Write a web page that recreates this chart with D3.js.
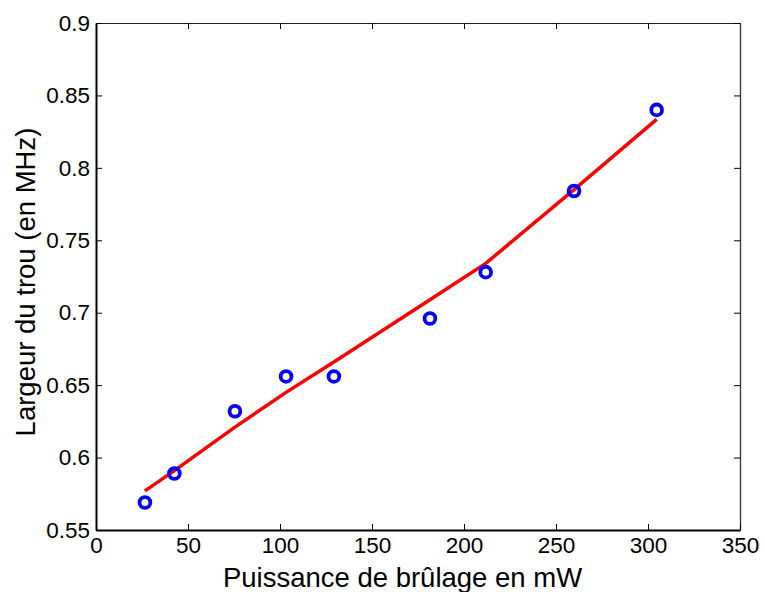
<!DOCTYPE html>
<html><head><meta charset="utf-8">
<script src="https://cdn.jsdelivr.net/npm/d3@7"></script>
<style>body{margin:0;background:#fff}svg{display:block}text{font-family:"Liberation Sans",Arial,Helvetica,sans-serif}</style>
</head><body><svg id="c" width="765" height="592"></svg>
<script>
const powerMW = [26.6, 42.6, 75.5, 103.3, 129.3, 181.5, 211.8, 259.8, 304.7];
const holeWidth = [0.569, 0.589, 0.632, 0.656, 0.656, 0.696, 0.728, 0.784, 0.840];
const fitWidth = [0.577, 0.591, 0.621, 0.645, 0.666, 0.709, 0.734, 0.785, 0.8335];
const xTicks = [0, 50, 100, 150, 200, 250, 300, 350];
const yTicks = [0.55, 0.6, 0.65, 0.7, 0.75, 0.8, 0.85, 0.9];
const xLabel = "Puissance de brûlage en mW";
const yLabel = "Largeur du trou (en MHz)";

const L = 96, R = 740, T = 23, B = 530;
const svg = d3.select("#c");
const x = d3.scaleLinear().domain([0, 350]).range([L, R]);
const y = d3.scaleLinear().domain([0.55, 0.9]).range([B, T]);
const fmt = d => String(+d.toFixed(2));

// frame top/right
svg.append("g").attr("transform", `translate(0,${T})`)
  .call(d3.axisTop(x).tickValues(xTicks).tickSize(-6).tickSizeOuter(0).tickFormat(""))
  .call(g => g.select(".domain").attr("stroke", "#222").attr("stroke-width", 1));
svg.append("g").attr("transform", `translate(${R},0)`)
  .call(d3.axisRight(y).tickValues(yTicks).tickSize(-6).tickSizeOuter(0).tickFormat(""))
  .call(g => g.select(".domain").attr("stroke", "#333").attr("stroke-width", 1.3));

const gx = svg.append("g").attr("transform", `translate(0,${B})`)
  .call(d3.axisBottom(x).tickValues(xTicks).tickSize(-6).tickSizeOuter(0).tickPadding(7).tickFormat(fmt));
gx.select(".domain").attr("stroke-width", 2);
gx.selectAll("text").style("font-size", "22.5px").attr("fill", "#000");

const gy = svg.append("g").attr("transform", `translate(${L},0)`)
  .call(d3.axisLeft(y).tickValues(yTicks).tickSize(-6).tickSizeOuter(0).tickPadding(6).tickFormat(fmt));
gy.select(".domain").attr("stroke-width", 2);
gy.selectAll("text").style("font-size", "22.5px").attr("fill", "#000");

// fit line
const line = d3.line().x((d, i) => x(powerMW[i])).y(d => y(d));
svg.append("path").datum(fitWidth).attr("d", line)
  .attr("fill", "none").attr("stroke", "#ff0000").attr("stroke-width", 3.5);

// markers
svg.append("g").selectAll("circle").data(holeWidth).join("circle")
  .attr("cx", (d, i) => x(powerMW[i])).attr("cy", d => y(d)).attr("r", 5.4)
  .attr("fill", "none").attr("stroke", "#0000ff").attr("stroke-width", 3.8);

svg.append("text").attr("x", 402.5).attr("y", 587).attr("text-anchor", "middle")
  .style("font-size", "27.5px").text(xLabel);
svg.append("text").attr("transform", `translate(35,282) rotate(-90)`)
  .attr("text-anchor", "middle").style("font-size", "27.5px").text(yLabel);
</script></body></html>
